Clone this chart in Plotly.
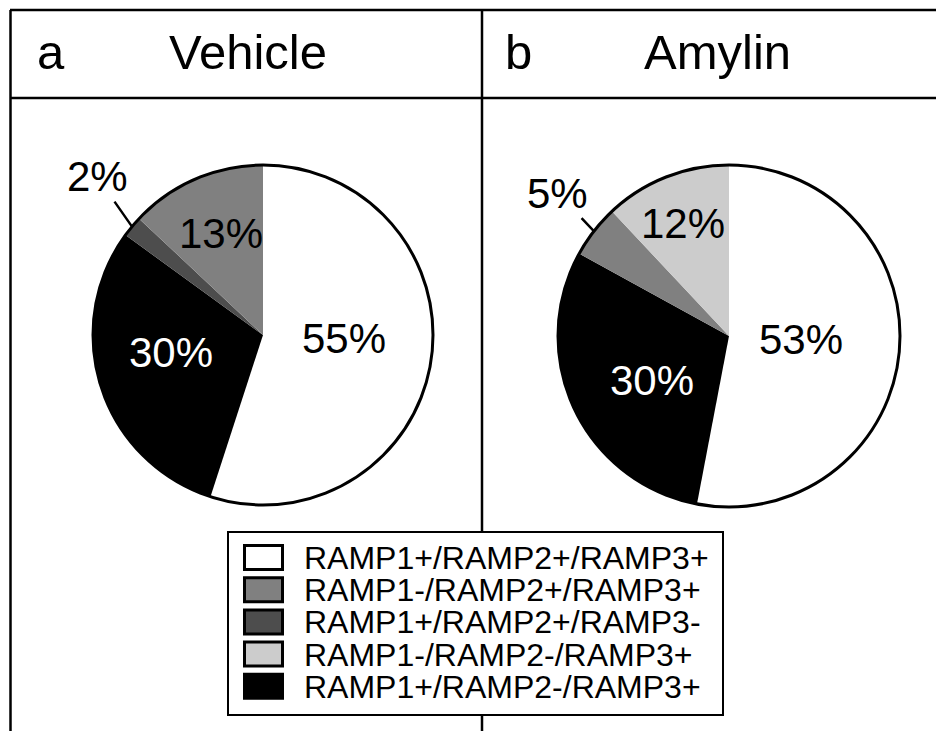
import plotly.graph_objects as go

# ---------------- data ----------------
categories = [
    "RAMP1+/RAMP2+/RAMP3+",
    "RAMP1-/RAMP2+/RAMP3+",
    "RAMP1+/RAMP2+/RAMP3-",
    "RAMP1-/RAMP2-/RAMP3+",
    "RAMP1+/RAMP2-/RAMP3+",
]
category_colors = ["#ffffff", "#808080", "#4d4d4d", "#cccccc", "#000000"]

vehicle_labels = ["RAMP1+/RAMP2+/RAMP3+", "RAMP1+/RAMP2-/RAMP3+",
                  "RAMP1+/RAMP2+/RAMP3-", "RAMP1-/RAMP2+/RAMP3+"]
vehicle_values = [55, 30, 2, 13]

amylin_labels = ["RAMP1+/RAMP2+/RAMP3+", "RAMP1+/RAMP2-/RAMP3+",
                 "RAMP1-/RAMP2+/RAMP3+", "RAMP1-/RAMP2-/RAMP3+"]
amylin_values = [53, 30, 5, 12]

panel_letters = ["a", "b"]
panel_titles = ["Vehicle", "Amylin"]

# ---------------- layout (page pixels; page body has an 8px margin) ----------------
PAGE_W, PAGE_H = 944, 731
OFF = 8
FW, FH = PAGE_W - OFF, PAGE_H - OFF
FONT = "Liberation Sans, Arial, sans-serif"
color_of = dict(zip(categories, category_colors))


def px_x(x):
    return (x - OFF) / FW


def px_y(y):
    return 1 - (y - OFF) / FH


panels = [
    dict(labels=vehicle_labels, values=vehicle_values, cx=263, cy=335, r=170,
         label_pos=[(0.476, 0.02), (-0.54, 0.10), None, (-0.25, -0.60)],
         outside=[None, None, (-35, -50), None]),
    dict(labels=amylin_labels, values=amylin_values, cx=729, cy=336, r=171,
         label_pos=[(0.42, 0.02), (-0.45, 0.26), None, (-0.27, -0.66)],
         outside=[None, None, (-36, -38), None]),
]

fig = go.Figure()
shapes = []
annotations = []

# frame lines
line_style = dict(color="black", width=2.5)
shapes += [
    dict(type="line", xref="paper", yref="paper", x0=px_x(10), x1=px_x(PAGE_W + 5), y0=px_y(10), y1=px_y(10), line=line_style),
    dict(type="line", xref="paper", yref="paper", x0=px_x(10), x1=px_x(PAGE_W + 5), y0=px_y(98), y1=px_y(98), line=line_style),
    dict(type="line", xref="paper", yref="paper", x0=px_x(10.5), x1=px_x(10.5), y0=px_y(10), y1=px_y(PAGE_H + 5), line=line_style),
    dict(type="line", xref="paper", yref="paper", x0=px_x(482), x1=px_x(482), y0=px_y(10), y1=px_y(PAGE_H + 5), line=line_style),
]

import math

for i, p in enumerate(panels):
    cx, cy, r = p["cx"], p["cy"], p["r"]
    fig.add_trace(go.Pie(
        labels=p["labels"], values=p["values"],
        marker=dict(colors=[color_of[l] for l in p["labels"]], line=dict(width=0)),
        sort=False, direction="clockwise", rotation=0,
        textinfo="none", hoverinfo="label+percent", showlegend=False,
        domain=dict(x=[px_x(cx - r), px_x(cx + r)], y=[px_y(cy + r), px_y(cy - r)]),
    ))
    # outline circle
    shapes.append(dict(type="circle", xref="paper", yref="paper",
                       x0=px_x(cx - r), x1=px_x(cx + r), y0=px_y(cy + r), y1=px_y(cy - r),
                       line=dict(color="black", width=3), layer="above"))
    total = sum(p["values"])
    cum = 0
    for j, v in enumerate(p["values"]):
        mid = (cum + v / 2) / total * 2 * math.pi
        cum += v
        col = color_of[p["labels"][j]]
        txt_col = "white" if col == "#000000" else "black"
        if p["outside"][j] is None:
            fx, fy = p["label_pos"][j]
            annotations.append(dict(x=px_x(cx + fx * r), y=px_y(cy + fy * r),
                                    xref="paper", yref="paper", text=f"{v}%", showarrow=False,
                                    font=dict(family=FONT, size=42, color=txt_col),
                                    xanchor="center", yanchor="middle"))
        else:
            dx, dy = math.sin(mid), -math.cos(mid)
            ax, ay = p["outside"][j]
            annotations.append(dict(x=px_x(cx + dx * r), y=px_y(cy + dy * r),
                                    xref="paper", yref="paper", text=f"{v}%", showarrow=True,
                                    arrowhead=0, arrowwidth=2.5, arrowcolor="black",
                                    ax=ax, ay=ay, standoff=0,
                                    font=dict(family=FONT, size=42, color="black")))

# panel titles
letter_x = [35, 503]
title_x = [248, 717]
for k in range(2):
    annotations.append(dict(x=px_x(letter_x[k]), y=px_y(52), xref="paper", yref="paper",
                            text=panel_letters[k], showarrow=False, xanchor="left", yanchor="middle",
                            font=dict(family=FONT, size=49, color="black")))
    annotations.append(dict(x=px_x(title_x[k]), y=px_y(52), xref="paper", yref="paper",
                            text=panel_titles[k], showarrow=False, xanchor="center", yanchor="middle",
                            font=dict(family=FONT, size=49, color="black")))

# custom legend
shapes.append(dict(type="rect", xref="paper", yref="paper", x0=px_x(228), x1=px_x(723),
                   y0=px_y(715), y1=px_y(532), line=dict(color="black", width=2),
                   fillcolor="white", layer="above"))
row0, pitch = 557.5, 32.2
for k, (name, col) in enumerate(zip(categories, category_colors)):
    yc = row0 + k * pitch
    shapes.append(dict(type="rect", xref="paper", yref="paper", x0=px_x(244.5), x1=px_x(282.5),
                       y0=px_y(yc + 12), y1=px_y(yc - 12), line=dict(color="black", width=3),
                       fillcolor=col, layer="above"))
    annotations.append(dict(x=px_x(302), y=px_y(yc), xref="paper", yref="paper", text=name,
                            showarrow=False, xanchor="left", yanchor="middle", height=31,
                            font=dict(family=FONT, size=32, color="black")))

fig.update_layout(
    width=FW, height=FH, margin=dict(l=0, r=0, t=0, b=0),
    paper_bgcolor="white", plot_bgcolor="white",
    shapes=shapes, annotations=annotations, showlegend=False,
)
fig.write_html("out.html")
